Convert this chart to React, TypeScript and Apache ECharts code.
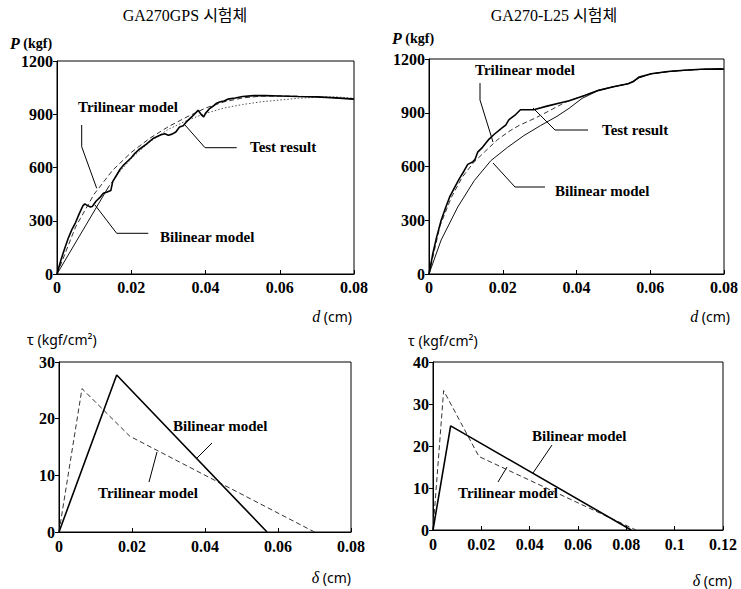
import React, { useEffect, useRef } from "react";
import * as echarts from "echarts";

// ---------- Data ----------
// Top-left: GA270GPS, P (kgf) vs d (cm)
const tlTest: [number, number][] = [
  [0, 0], [0.001, 75], [0.002, 140], [0.003, 200], [0.004, 250], [0.005, 290], [0.006, 340],
  [0.007, 385], [0.0075, 395], [0.008, 388], [0.009, 378], [0.0095, 380], [0.0105, 410],
  [0.0115, 430], [0.0125, 455], [0.0135, 462], [0.0145, 470], [0.015, 520], [0.016, 555],
  [0.017, 590], [0.018, 615], [0.019, 635], [0.02, 655], [0.021, 680], [0.022, 700],
  [0.024, 730], [0.026, 765], [0.028, 785], [0.029, 790], [0.03, 782], [0.031, 788],
  [0.032, 800], [0.033, 828], [0.034, 835], [0.035, 860], [0.036, 880], [0.037, 900],
  [0.038, 922], [0.039, 895], [0.0395, 885], [0.04, 905], [0.041, 930], [0.042, 945],
  [0.043, 962], [0.044, 970], [0.045, 975], [0.046, 985], [0.048, 992], [0.05, 1000],
  [0.053, 1005], [0.056, 1005], [0.06, 1003], [0.065, 1000], [0.07, 998], [0.075, 992], [0.08, 985],
];
const tlTrilinear: [number, number][] = [
  [0, 0], [0.005, 265], [0.01, 450], [0.015, 585], [0.02, 685], [0.025, 765], [0.03, 830],
  [0.035, 885], [0.04, 935], [0.045, 970], [0.05, 992], [0.055, 1002], [0.06, 1003],
  [0.065, 1001], [0.07, 998], [0.075, 992], [0.08, 985],
];
const tlBilinear: [number, number][] = [
  [0, 0], [0.014, 495], [0.016, 555], [0.02, 650], [0.025, 745], [0.03, 815], [0.035, 865],
  [0.04, 905], [0.045, 935], [0.05, 955], [0.055, 970], [0.06, 980], [0.065, 990],
  [0.07, 996], [0.075, 998], [0.08, 990],
];

// Top-right: GA270-L25, P (kgf) vs d (cm)
const trTest: [number, number][] = [
  [0, 0], [0.001, 110], [0.002, 200], [0.0033, 300], [0.0045, 370], [0.0056, 430], [0.007, 485],
  [0.0082, 531], [0.0095, 575], [0.0105, 612], [0.0118, 625], [0.0125, 640], [0.0132, 680],
  [0.0145, 707], [0.0163, 753], [0.0177, 780], [0.0199, 817], [0.0208, 831], [0.0217, 862],
  [0.0235, 890], [0.0248, 917], [0.0284, 917], [0.032, 937], [0.036, 957], [0.038, 967],
  [0.042, 995], [0.046, 1025], [0.05, 1045], [0.054, 1062], [0.0555, 1075], [0.057, 1100],
  [0.0603, 1118], [0.0648, 1130], [0.0692, 1137], [0.0737, 1143], [0.079, 1145], [0.08, 1143],
];
const trTrilinear: [number, number][] = [
  [0, 0], [0.003, 270], [0.006, 425], [0.009, 540], [0.012, 620], [0.015, 680], [0.0186, 750],
  [0.022, 800], [0.0245, 830], [0.029, 872], [0.033, 915], [0.036, 948], [0.038, 967],
  [0.042, 995], [0.046, 1025], [0.05, 1045], [0.054, 1062], [0.057, 1095], [0.0603, 1118],
  [0.065, 1130], [0.07, 1138], [0.075, 1143], [0.08, 1143],
];
const trBilinear: [number, number][] = [
  [0, 0], [0.0033, 190], [0.0078, 374], [0.0123, 522], [0.0168, 633], [0.0213, 707],
  [0.0257, 772], [0.0302, 828], [0.0347, 880], [0.038, 925], [0.0415, 980], [0.046, 1025],
  [0.05, 1045], [0.054, 1062], [0.057, 1095], [0.0603, 1118], [0.065, 1130], [0.07, 1138],
  [0.075, 1143], [0.08, 1143],
];

// Bottom-left: GA270GPS, tau (kgf/cm2) vs delta (cm)
const blBilinear: [number, number][] = [[0, 0], [0.0158, 27.7], [0.057, 0]];
const blTrilinear: [number, number][] = [[0, 0], [0.0063, 25.3], [0.0194, 16.9], [0.07, 0]];

// Bottom-right: GA270-L25, tau (kgf/cm2) vs delta (cm)
const brBilinear: [number, number][] = [[0, 0], [0.0073, 24.8], [0.082, 0]];
const brTrilinear: [number, number][] = [[0, 0], [0.0044, 33.2], [0.019, 17.5], [0.084, 0]];

// Axis ranges
const pMax = 1200, pInterval = 300;
const dMax = 0.08, dInterval = 0.02;
const tauMaxL = 30, tauMaxR = 40, tauInterval = 10;
const deltaMaxL = 0.08, deltaMaxR = 0.12;

const titles = ["GA270GPS 시험체", "GA270-L25 시험체"];

// ---------- Styling ----------
const SERIF = "Liberation Serif, Times New Roman, Noto Sans CJK KR, serif";
const SANS = "Noto Sans, DejaVu Sans, sans-serif";

function xAxis(gridIndex: number, max: number, interval: number, margin: number) {
  return {
    type: "value",
    gridIndex,
    min: 0,
    max,
    interval,
    axisLine: { show: true, onZero: false, lineStyle: { color: "#000", width: 1 } },
    axisTick: { show: true, inside: true, length: 4, lineStyle: { color: "#000" } },
    axisLabel: {
      color: "#000",
      fontFamily: SERIF,
      fontWeight: "bold",
      fontSize: 16,
      margin,
      formatter: (v: number) => String(Number(v.toFixed(3))),
    },
    splitLine: { show: false },
  };
}
function yAxis(gridIndex: number, max: number, interval: number) {
  return {
    type: "value",
    gridIndex,
    min: 0,
    max,
    interval,
    axisLine: { show: true, onZero: false, lineStyle: { color: "#000", width: 1 } },
    axisTick: { show: true, inside: false, length: 4, lineStyle: { color: "#000" } },
    axisLabel: {
      color: "#000",
      fontFamily: SERIF,
      fontWeight: "bold",
      fontSize: 16,
      margin: 4,
      formatter: (v: number) => String(v),
    },
    splitLine: { show: false },
  };
}
function line(idx: number, data: [number, number][], kind: "solid" | "thin" | "dashed" | "dotted") {
  const styles: Record<string, any> = {
    solid: { color: "#000", width: 1.6, type: "solid" },
    thin: { color: "#111", width: 1, type: "solid" },
    dashed: { color: "#333", width: 1, type: [5, 3] },
    dotted: { color: "#555", width: 1, type: [1.5, 2] },
  };
  return {
    type: "line",
    xAxisIndex: idx,
    yAxisIndex: idx,
    data,
    symbol: "none",
    silent: true,
    lineStyle: styles[kind],
    z: kind === "solid" ? 3 : 2,
  };
}
function label(text: string, x: number, y: number, align = "left") {
  return {
    type: "text",
    x,
    y,
    silent: true,
    style: {
      text,
      fill: "#000",
      fontFamily: SERIF,
      fontWeight: "bold",
      fontSize: 15,
      align,
      verticalAlign: "middle",
    },
  };
}
function leader(points: number[][]) {
  return {
    type: "polyline",
    silent: true,
    shape: { points },
    style: { stroke: "#000", lineWidth: 1, fill: null },
  };
}
function axisName(text: string, rich: Record<string, any>, x: number, y: number, align: string, fontFamily: string, bold = false) {
  return {
    type: "text",
    x,
    y,
    silent: true,
    style: {
      text,
      rich,
      fill: "#000",
      fontFamily,
      fontSize: 14,
      fontWeight: bold ? "bold" : "normal",
      align,
      verticalAlign: "middle",
    },
  };
}

export default function App() {
  const ref = useRef<HTMLDivElement>(null);
  useEffect(() => {
    if (!ref.current) return;
    const chart = echarts.init(ref.current, undefined, { renderer: "svg" });
    const italicSerif = { fontStyle: "italic", fontFamily: SERIF, fontSize: 16, fontWeight: "bold", fill: "#000" };
    const italicSerifN = { fontStyle: "italic", fontFamily: SERIF, fontSize: 16, fill: "#000" };
    const gridBase = { show: true, borderColor: "#000", borderWidth: 1, backgroundColor: "transparent", containLabel: false };
    const splitBil = 2;
    chart.setOption({
      animation: false,
      backgroundColor: "#fff",
      grid: [
        { ...gridBase, left: 57, top: 61, width: 297, height: 213 },
        { ...gridBase, left: 429, top: 59, width: 297, height: 215 },
        { ...gridBase, left: 59, top: 362, width: 292, height: 170 },
        { ...gridBase, left: 433, top: 362, width: 290, height: 168 },
      ],
      xAxis: [
        xAxis(0, dMax, dInterval, 5),
        xAxis(1, dMax, dInterval, 5),
        xAxis(2, deltaMaxL, dInterval, 6),
        xAxis(3, deltaMaxR, dInterval, 6),
      ],
      yAxis: [
        yAxis(0, pMax, pInterval),
        yAxis(1, pMax, pInterval),
        yAxis(2, tauMaxL, tauInterval),
        yAxis(3, tauMaxR, tauInterval),
      ],
      series: [
        line(0, tlBilinear.slice(0, splitBil), "thin"),
        line(0, tlBilinear.slice(splitBil - 1), "dotted"),
        line(0, tlTrilinear, "dashed"),
        line(0, tlTest, "solid"),
        line(1, trBilinear, "thin"),
        line(1, trTrilinear, "dashed"),
        line(1, trTest, "solid"),
        line(2, blTrilinear, "dashed"),
        line(2, blBilinear, "solid"),
        line(3, brTrilinear, "dashed"),
        line(3, brBilinear, "solid"),
      ],
      graphic: [
        {
          type: "text", x: 185, y: 15, silent: true,
          style: { text: titles[0], fill: "#000", fontFamily: SERIF, fontSize: 16, align: "center", verticalAlign: "middle" },
        },
        {
          type: "text", x: 554, y: 15, silent: true,
          style: { text: titles[1], fill: "#000", fontFamily: SERIF, fontSize: 16, align: "center", verticalAlign: "middle" },
        },
        axisName("{i|P} (kgf)", { i: italicSerif }, 10, 43, "left", SERIF, true),
        axisName("{i|P} (kgf)", { i: italicSerif }, 392, 38, "left", SERIF, true),
        axisName("{i|d} (cm)", { i: italicSerifN }, 352, 316, "right", SANS),
        axisName("{i|d} (cm)", { i: italicSerifN }, 730, 316, "right", SANS),
        axisName("τ (kgf/cm²)", {}, 27, 339, "left", SANS),
        axisName("τ (kgf/cm²)", {}, 408, 340, "left", SANS),
        axisName("{i|δ} (cm)", { i: italicSerifN }, 351, 577, "right", SANS),
        axisName("{i|δ} (cm)", { i: italicSerifN }, 732, 580, "right", SANS),

        label("Trilinear model", 78, 107),
        leader([[81.7, 125], [81.7, 146.7], [96.7, 188.3]]),
        label("Test result", 250, 147),
        leader([[236.7, 147.7], [205, 147.7], [185, 125]]),
        label("Bilinear model", 160, 237),
        leader([[148.3, 233.3], [116.7, 233.3], [95, 205]]),

        label("Trilinear model", 475, 70),
        leader([[480, 83], [480, 100], [493, 142]]),
        label("Test result", 602, 130),
        leader([[588, 130], [555, 130], [533, 108]]),
        label("Bilinear model", 555, 191),
        leader([[545, 187], [515, 187], [493, 163]]),

        label("Bilinear model", 173, 426),
        leader([[212, 443], [197, 458]]),
        label("Trilinear model", 98, 493),
        leader([[149, 482], [157, 452]]),

        label("Bilinear model", 532, 436),
        leader([[552, 445], [533, 473]]),
        label("Trilinear model", 458, 493),
        leader([[498, 482], [507, 467]]),
      ],
    });
    return () => chart.dispose();
  }, []);
  return (
    <div
      ref={ref}
      style={{ position: "fixed", left: 0, top: 0, width: 741, height: 589, background: "#fff" }}
    />
  );
}
